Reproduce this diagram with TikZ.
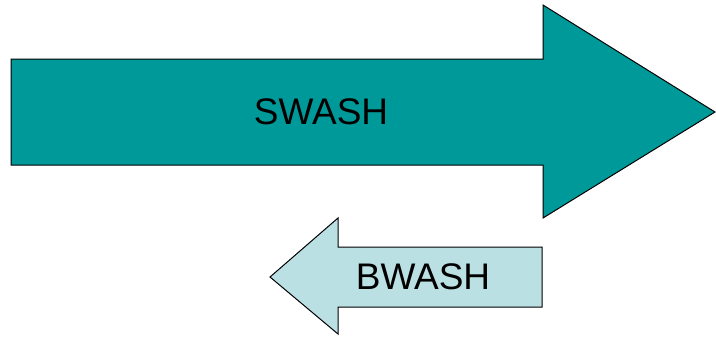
\documentclass[tikz,border=0pt]{standalone}
\usepackage{fontspec}
\setmainfont{Liberation Sans}
\definecolor{swashteal}{HTML}{009999}
\definecolor{bwashblue}{HTML}{BBE0E3}
\tikzset{
    bigarrow/.style = {draw=black, line width=1pt, line join=miter, fill=swashteal},
    smallarrow/.style = {draw=black, line width=1pt, line join=miter, fill=bwashblue},
    label/.style = {font=\fontsize{37}{41}\selectfont, text=black}
}
\begin{document}
\begin{tikzpicture}[x=1pt, y=-1pt]
    \useasboundingbox (0,0) rectangle (716,338);
    % swash arrow, pointing right
    \draw[bigarrow] (11,59) -- (543,59) -- (543,5) -- (715,112) -- (543,218) -- (543,165) -- (11,165) -- cycle;
    \node[label] (swash) at (321,112) {SWASH};
    % bwash arrow, pointing left
    \draw[smallarrow] (542,247) -- (338,247) -- (338,218) -- (270,277) -- (338,334) -- (338,307) -- (542,307) -- cycle;
    \node[label] (bwash) at (423,277) {BWASH};
\end{tikzpicture}
\end{document}
